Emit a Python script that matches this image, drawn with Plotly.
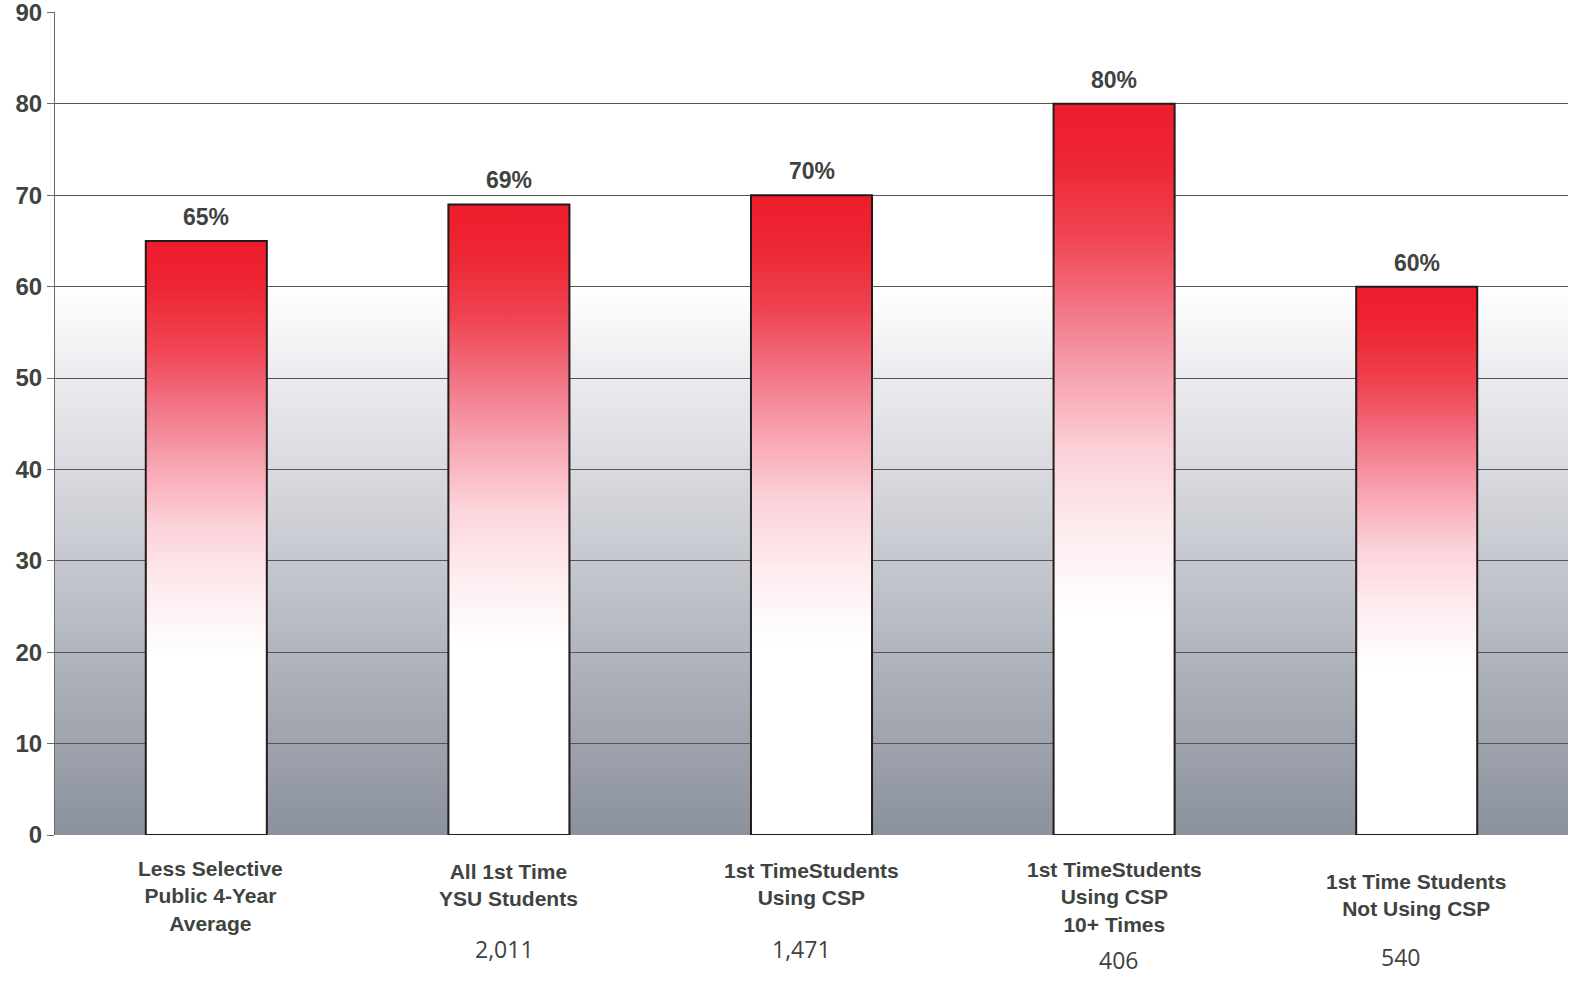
import plotly.graph_objects as go

categories = [
    "Less Selective<br>Public 4-Year<br>Average",
    "All 1st Time<br>YSU Students",
    "1st TimeStudents<br>Using CSP",
    "1st TimeStudents<br>Using CSP<br>10+ Times",
    "1st Time Students<br>Not Using CSP",
]
values = [65, 69, 70, 80, 60]
counts = ["", "2,011", "1,471", "406", "540"]
y_ticks = [0, 10, 20, 30, 40, 50, 60, 70, 80, 90]

TEXT = "#3f433f"
BOLD = "Arial, Liberation Sans, sans-serif"
BAR_W = 0.4

bar_scale = [
    [0.0, "#ffffff"], [0.30, "#ffffff"], [0.42, "#fdebee"], [0.52, "#fcd3da"],
    [0.62, "#f8a6b3"], [0.72, "#f27586"], [0.82, "#ef4452"], [0.92, "#ee2633"],
    [1.0, "#ee1c2c"],
]

fig = go.Figure()

for i, v in enumerate(values):
    fig.add_trace(go.Scatter(
        x=[i - BAR_W / 2, i + BAR_W / 2, i + BAR_W / 2, i - BAR_W / 2, i - BAR_W / 2],
        y=[0, 0, v, v, 0],
        mode="lines", fill="toself",
        line=dict(color="#231a1a", width=2),
        fillgradient=dict(type="vertical", colorscale=bar_scale, start=0, stop=v),
        hoverinfo="skip", showlegend=False,
    ))

# value labels
for i, v in enumerate(values):
    fig.add_annotation(x=i, y=v, xref="x", yref="y", text=f"{v}%",
                       showarrow=False, yanchor="bottom", yshift=9,
                       font=dict(family=BOLD, size=23, color=TEXT, weight="bold"))

# category labels
label_shift = [-20, -23, -22, -21, -33]
for i, c in enumerate(categories):
    fig.add_annotation(x=i, y=0, xref="x", yref="paper", text=c,
                       showarrow=False, yanchor="top", yshift=label_shift[i],
                       xshift=4 if i == 0 else 0,
                       font=dict(family=BOLD, size=21, color=TEXT, weight="bold"),
                       align="center")

# counts
count_shift = [0, -4, -10, 4, -16]
count_y = [-114, -114, -114, -125, -122]
for i, c in enumerate(counts):
    if c:
        fig.add_annotation(x=i, y=0, xref="x", yref="paper", text=c,
                           showarrow=False, yanchor="middle", yshift=count_y[i],
                           xshift=count_shift[i],
                           font=dict(family="Open Sans", size=23, color=TEXT))

bg_svg = (
    "data:image/svg+xml;utf8,"
    "<svg xmlns='http://www.w3.org/2000/svg' width='100' height='900' preserveAspectRatio='none'>"
    "<defs><linearGradient id='g' x1='0' y1='0' x2='0' y2='1'>"
    "<stop offset='0' stop-color='%23ffffff'/>"
    "<stop offset='0.333' stop-color='%23ffffff'/>"
    "<stop offset='0.444' stop-color='%23ebebef'/>"
    "<stop offset='0.556' stop-color='%23d9dadf'/>"
    "<stop offset='0.667' stop-color='%23c5c8cf'/>"
    "<stop offset='0.778' stop-color='%23b1b5bd'/>"
    "<stop offset='0.889' stop-color='%239ea3ad'/>"
    "<stop offset='1' stop-color='%238b919d'/>"
    "</linearGradient></defs>"
    "<rect width='100' height='900' fill='url(%23g)'/></svg>"
)
fig.add_layout_image(dict(source=bg_svg, xref="paper", yref="paper", x=0, y=1,
                          sizex=1, sizey=1, xanchor="left", yanchor="top",
                          sizing="stretch", layer="below"))

fig.update_layout(
    width=1590, height=987,
    margin=dict(l=55, r=22, t=12, b=152),
    paper_bgcolor="white", plot_bgcolor="rgba(0,0,0,0)",
    showlegend=False,
)
fig.update_xaxes(range=[-0.5, len(values) - 0.5], showticklabels=False,
                 showgrid=False, zeroline=False, showline=False, fixedrange=True,
                 automargin=False)
fig.update_yaxes(range=[0, 90.05], tickvals=y_ticks, ticktext=[str(t) for t in y_ticks],
                 showgrid=True, gridcolor="#555555", gridwidth=1, zeroline=False,
                 showline=True, linecolor="#6a6a6a", linewidth=1,
                 ticks="outside", ticklen=7, tickcolor="#6a6a6a",
                 ticklabeloverflow="allow", automargin=False,
                 tickfont=dict(family=BOLD, size=24, color=TEXT, weight="bold"),
                 fixedrange=True)

fig.write_html("out.html", config={"displayModeBar": False},
               post_script="document.body.style.margin='0';document.body.style.overflow='hidden';")
